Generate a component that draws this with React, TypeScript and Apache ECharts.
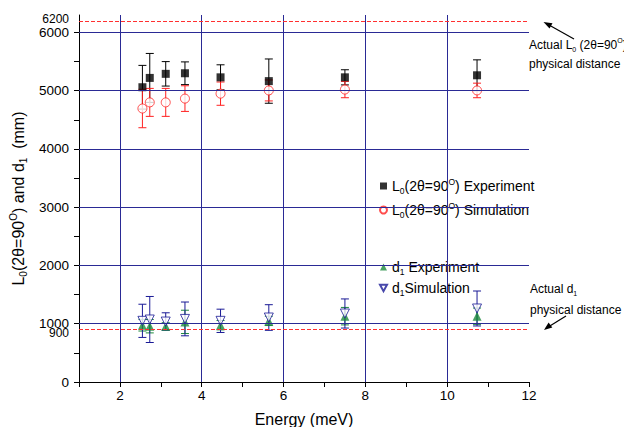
import React, { useEffect, useRef } from 'react';
import * as echarts from 'echarts';

const energies = [2.55, 2.73, 3.12, 3.59, 4.46, 5.64, 7.5, 10.73];
const L0Exp = [5060, 5220, 5290, 5300, 5230, 5165, 5230, 5265];
const L0ExpErr = [375, 420, 210, 195, 215, 380, 130, 265];
const L0Sim = [4695, 4800, 4800, 4865, 4950, 5005, 5020, 5005];
const L0SimErr = [330, 240, 240, 220, 200, 180, 140, 125];
const d1Exp = [975, 958, 958, 1032, 975, 1049, 1130, 1130];
const d1ExpErr = [100, 115, 60, 200, 80, 80, 150, 140];
const d1Sim = [1050, 1073, 1038, 1083, 1050, 1107, 1176, 1262];
const d1SimErr = [285, 395, 150, 290, 200, 220, 250, 300];

const yLabelValues = [0, 1000, 2000, 3000, 4000, 5000, 6000, 6200, 900];
const yTickValues = [0, 500, 1000, 1500, 2000, 2500, 3000, 3500, 4000, 4500, 5000, 5500, 6000];
const xTickValues = [1, 2, 3, 4, 5, 6, 7, 8, 9, 10, 11, 12];
const xLabelValues = [2, 4, 6, 8, 10, 12];
const gridYValues = [1000, 2000, 3000, 4000, 5000, 6000];
const gridXValues = [2, 4, 6, 8, 10];
const refValues = [6200, 900];

const FONT = '"Liberation Sans", Arial, Helvetica, sans-serif';
const GRID_COLOR = '#2a2a95';
const REF_COLOR = '#ff3030';

const legendNames: Record<string, string> = {
  'L0 Experiment': '{n|L}{sub|0}{n|(2θ=90}{sup|O}{n|) Experiment}',
  'L0 Simulation': '{n|L}{sub|0}{n|(2θ=90}{sup|O}{n|) Simulation}',
  'd1 Experiment': '{n|d}{sub|1}{n| Experiment}',
  'd1 Simulation': '{n|d}{sub|1}{n|Simulation}',
};

const richLegend = {
  n: { fontSize: 14, fontFamily: FONT, color: '#000', lineHeight: 18 },
  sub: { fontSize: 8.5, fontFamily: FONT, color: '#000', lineHeight: 10, verticalAlign: 'bottom' },
  sup: { fontSize: 8.5, fontFamily: FONT, color: '#000', lineHeight: 10, verticalAlign: 'top' },
};

function errorSeries(ys: number[], errs: number[], color: string) {
  return {
    type: 'custom',
    silent: true,
    z: 2,
    data: energies.map((x, i) => [x, ys[i] - errs[i], ys[i] + errs[i]]),
    encode: { x: 0, y: [1, 2] },
    renderItem: (params: any, api: any) => {
      const x = api.value(0);
      const lo = api.coord([x, api.value(1)]);
      const hi = api.coord([x, api.value(2)]);
      const w = 4;
      const st = { stroke: color, lineWidth: 1 };
      return {
        type: 'group',
        children: [
          { type: 'line', shape: { x1: lo[0], y1: lo[1], x2: hi[0], y2: hi[1] }, style: st },
          { type: 'line', shape: { x1: lo[0] - w, y1: lo[1], x2: lo[0] + w, y2: lo[1] }, style: st },
          { type: 'line', shape: { x1: hi[0] - w, y1: hi[1], x2: hi[0] + w, y2: hi[1] }, style: st },
        ],
      };
    },
  };
}

export default function App() {
  const ref = useRef<HTMLDivElement>(null);
  useEffect(() => {
    if (!ref.current) return;
    const chart = echarts.init(ref.current, null, { renderer: 'svg' });
    const gridStyle = { color: GRID_COLOR, type: 'solid', width: 1 };
    const refStyle = { color: REF_COLOR, type: 'dashed', dashOffset: 0, width: 1 };
    const option: any = {
      animation: false,
      backgroundColor: '#fff',
      grid: { left: 79, right: 95, top: 15, bottom: 45, containLabel: false, outerBoundsMode: 'none' },
      xAxis: {
        type: 'value',
        min: 1,
        max: 12,
        interval: 1,
        name: 'Energy (meV)',
        nameLocation: 'middle',
        nameGap: 29,
        nameTextStyle: { fontSize: 16, fontFamily: FONT, color: '#000' },
        axisLine: { show: true, lineStyle: { color: '#000', width: 1 } },
        axisTick: { show: true, length: 5, lineStyle: { color: '#000' }, customValues: xTickValues },
        axisLabel: { customValues: xLabelValues, fontSize: 13.5, fontFamily: FONT, color: '#000', margin: 6 },
        splitLine: { show: false },
      },
      yAxis: {
        type: 'value',
        min: 0,
        max: 6300,
        interval: 500,
        name: '{n|L}{sub|0}{n|(2θ=90}{sup|O}{n|) and d}{sub|1}{n|  (mm)}',
        nameLocation: 'middle',
        nameRotate: 90,
        nameGap: 43,
        nameTextStyle: {
          fontFamily: FONT,
          rich: {
            n: { fontSize: 16, fontFamily: FONT, color: '#000', lineHeight: 20 },
            sub: { fontSize: 10, fontFamily: FONT, color: '#000', lineHeight: 11, verticalAlign: 'bottom' },
            sup: { fontSize: 10, fontFamily: FONT, color: '#000', lineHeight: 11, verticalAlign: 'top' },
          },
        },
        axisLine: { show: true, lineStyle: { color: '#000', width: 1 } },
        axisTick: { show: true, length: 5, lineStyle: { color: '#000' }, customValues: yTickValues },
        axisLabel: {
          customValues: yLabelValues,
          fontSize: 13.5,
          fontFamily: FONT,
          color: '#000',
          margin: 10,
          formatter: (v: number) => (v === 6200 ? `{hi|${v}}` : v === 900 ? `{lo|${v}}` : `${v}`),
          rich: {
            hi: { fontSize: 12, fontFamily: FONT, color: '#000', padding: [0, 0, 4, 0] },
            lo: { fontSize: 12, fontFamily: FONT, color: '#000', padding: [7, 0, 0, 0] },
          },
        },
        splitLine: { show: false },
      },
      legend: [
        {
          data: ['L0 Experiment', 'L0 Simulation'],
          orient: 'vertical',
          left: 379,
          top: 177,
          padding: 0,
          itemWidth: 7,
          itemHeight: 7,
          itemGap: 6,
          itemTextGap: 16,
          formatter: (name: string) => legendNames[name],
          textStyle: { rich: richLegend },
        },
        {
          data: ['d1 Experiment', { name: 'd1 Simulation', icon: 'path://M0,0 L10,0 L5,9 Z' }],
          orient: 'vertical',
          left: 379,
          top: 260,
          padding: 0,
          itemWidth: 7,
          itemHeight: 7,
          itemGap: 5,
          itemTextGap: 16,
          formatter: (name: string) => legendNames[name],
          textStyle: { rich: richLegend },
        },
      ],
      series: [
        {
          type: 'line',
          name: '_lines',
          data: [],
          z: 1,
          silent: true,
          markLine: {
            silent: true,
            symbol: 'none',
            label: { show: false },
            lineStyle: gridStyle,
            data: [
              ...gridYValues.map((v) => ({ yAxis: v, lineStyle: gridStyle })),
              ...gridXValues.map((v) => ({ xAxis: v, lineStyle: gridStyle })),
              ...refValues.map((v) => ({ yAxis: v, lineStyle: refStyle })),
            ],
          },
        },
        errorSeries(L0Exp, L0ExpErr, '#000'),
        errorSeries(L0Sim, L0SimErr, '#ff2020'),
        errorSeries(d1Exp, d1ExpErr, '#1c8a3c'),
        errorSeries(d1Sim, d1SimErr, '#1a1a96'),
        {
          type: 'scatter',
          name: 'L0 Experiment',
          z: 3,
          symbol: 'rect',
          symbolSize: 8,
          itemStyle: { color: '#000' },
          data: energies.map((x, i) => [x, L0Exp[i]]),
        },
        {
          type: 'scatter',
          name: 'L0 Simulation',
          z: 3,
          symbol: 'circle',
          symbolSize: 9,
          itemStyle: { color: '#fff', borderColor: '#ff2020', borderWidth: 1 },
          data: energies.map((x, i) => [x, L0Sim[i]]),
        },
        {
          type: 'scatter',
          name: 'd1 Experiment',
          z: 3,
          symbol: 'triangle',
          symbolSize: 9,
          itemStyle: { color: '#1c8a3c' },
          data: energies.map((x, i) => [x, d1Exp[i]]),
        },
        {
          type: 'scatter',
          name: 'd1 Simulation',
          z: 3,
          symbol: 'triangle',
          symbolRotate: 180,
          symbolSize: 9,
          itemStyle: { color: '#fff', borderColor: '#1a1a96', borderWidth: 1 },
          data: energies.map((x, i) => [x, d1Sim[i]]),
        },
      ],
      graphic: [
        {
          type: 'text',
          left: 529,
          top: 37,
          style: {
            text: '{n|Actual L}{sub|0}{n| (2θ=90}{sup|O}{n|)}',
            rich: {
              n: { fontSize: 12, fontFamily: FONT, fill: '#000', lineHeight: 16 },
              sub: { fontSize: 7, fontFamily: FONT, fill: '#000', lineHeight: 8, verticalAlign: 'bottom' },
              sup: { fontSize: 7, fontFamily: FONT, fill: '#000', lineHeight: 8, verticalAlign: 'top' },
            },
          },
        },
        {
          type: 'text',
          left: 529,
          top: 58,
          style: { text: 'physical distance', fontSize: 12, fontFamily: FONT, fill: '#000' },
        },
        {
          type: 'text',
          left: 530,
          top: 283,
          style: {
            text: '{n|Actual d}{sub|1}',
            rich: {
              n: { fontSize: 12, fontFamily: FONT, fill: '#000', lineHeight: 16 },
              sub: { fontSize: 7, fontFamily: FONT, fill: '#000', lineHeight: 8, verticalAlign: 'bottom' },
            },
          },
        },
        {
          type: 'text',
          left: 530,
          top: 304,
          style: { text: 'physical distance', fontSize: 12, fontFamily: FONT, fill: '#000' },
        },
        { type: 'line', shape: { x1: 574, y1: 39, x2: 549, y2: 25 }, style: { stroke: '#000', lineWidth: 1.2 } },
        {
          type: 'polygon',
          shape: { points: [[543.5, 22], [552.5, 23.2], [549.5, 28.6]] },
          style: { fill: '#000' },
        },
        { type: 'line', shape: { x1: 566, y1: 316, x2: 549, y2: 326.5 }, style: { stroke: '#000', lineWidth: 1.2 } },
        {
          type: 'polygon',
          shape: { points: [[544, 330], [552.3, 327.6], [548.6, 322.6]] },
          style: { fill: '#000' },
        },
      ],
    };
    chart.setOption(option);
    return () => chart.dispose();
  }, []);
  return <div ref={ref} style={{ width: 624, height: 427, position: 'absolute', left: 0, top: 0 }} />;
}
